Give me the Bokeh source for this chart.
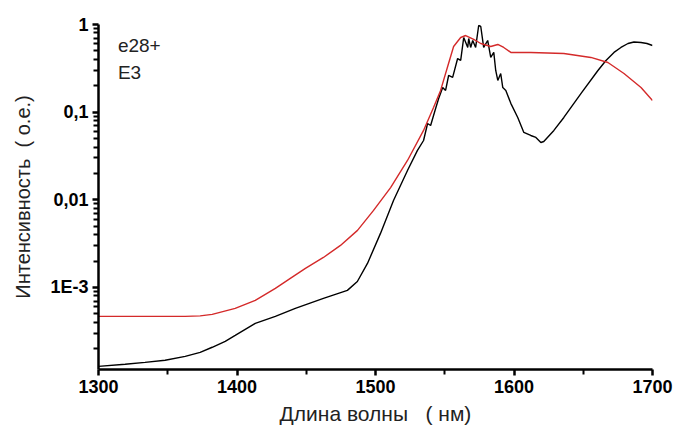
from bokeh.plotting import figure
from bokeh.models import Range1d, FixedTicker, CustomJSTickFormatter, Label
from bokeh.embed import file_html
from bokeh.resources import INLINE

# Wavelength (nm) and intensity (a.u.)
black_nm = [1300, 1319.2, 1333.6, 1348.1, 1362.6, 1373.4, 1382.1, 1391.5, 1398.7, 1413.2,
            1427.7, 1442.1, 1462.4, 1479.7, 1486.9, 1494.2, 1503.6, 1513.0, 1523.1, 1530.3,
            1534.7, 1537.6, 1539.8, 1543.4, 1545.6, 1548.5, 1550.6, 1552.8, 1555.7, 1559.3,
            1561.5, 1563.7, 1566.6, 1567.3, 1568.7, 1570.2, 1572.3, 1574.5, 1576.0, 1578.1,
            1581.0, 1583.2, 1585.4, 1586.8, 1588.3, 1590.4, 1591.9, 1594.1, 1597.7, 1602.7,
            1607.1, 1612.1, 1615.8, 1619.4, 1621.5, 1628.8, 1636.0, 1648.3, 1660.6, 1666.4,
            1672.2, 1677.2, 1682.3, 1686.6, 1691.7, 1696.0, 1700]
black_val = [1.26e-4, 1.33e-4, 1.40e-4, 1.48e-4, 1.64e-4, 1.82e-4, 2.08e-4, 2.43e-4, 2.84e-4, 3.90e-4,
             4.69e-4, 5.78e-4, 7.52e-4, 9.27e-4, 1.17e-3, 1.88e-3, 4.14e-3, 9.84e-3, 0.0216, 0.0366,
             0.0475, 0.0743, 0.0705, 0.110, 0.143, 0.191, 0.177, 0.262, 0.249, 0.409,
             0.389, 0.711, 0.547, 0.692, 0.547, 0.657, 0.547, 0.974, 0.949, 0.547,
             0.657, 0.421, 0.480, 0.299, 0.230, 0.276, 0.191, 0.177, 0.126, 0.0870,
             0.0587, 0.0542, 0.0515, 0.0451, 0.0463, 0.0619, 0.0870, 0.163, 0.299, 0.389,
             0.480, 0.547, 0.607, 0.632, 0.624, 0.607, 0.576]

red_nm = [1300, 1330.0, 1362.6, 1373.4, 1382.1, 1398.7, 1413.2, 1427.7, 1438.5, 1449.4,
          1462.4, 1474.7, 1487.0, 1498.6, 1510.9, 1523.1, 1534.7, 1541.9, 1547.0, 1552.1,
          1556.4, 1561.5, 1565.1, 1570.9, 1576.0, 1583.2, 1588.3, 1592.6, 1597.7, 1612.1,
          1636.0, 1655.5, 1667.8, 1679.4, 1691.7, 1700]
red_val = [4.68e-4, 4.68e-4, 4.68e-4, 4.74e-4, 4.93e-4, 5.78e-4, 7.13e-4, 9.77e-4, 1.27e-3, 1.65e-3,
           2.20e-3, 3.02e-3, 4.48e-3, 7.57e-3, 0.0138, 0.0281, 0.0619, 0.113, 0.177, 0.332,
           0.561, 0.711, 0.749, 0.675, 0.607, 0.561, 0.592, 0.547, 0.480, 0.480,
           0.467, 0.421, 0.369, 0.276, 0.191, 0.136]

x_ticks = [1300, 1400, 1500, 1600, 1700]
x_minor = [1350, 1450, 1550, 1650]
y_ticks = [1e-4, 1e-3, 1e-2, 1e-1, 1]
y_minor = [k * d for d in (1e-4, 1e-3, 1e-2, 1e-1) for k in range(2, 10)]
y_labels = {"0": "1", "-1": "0,1", "-2": "0,01", "-3": "1E-3"}
legend_lines = ["e28+", "E3"]

FONT = "Liberation Sans"
NB = "\u00a0"

p = figure(width=677, height=427, output_backend="svg", toolbar_location=None,
           y_axis_type="log",
           x_range=Range1d(1300, 1700), y_range=Range1d(1.16e-4, 1.0),
           min_border_left=98, min_border_right=25, min_border_top=24, min_border_bottom=58)
p.outline_line_color = None
p.xgrid.visible = False
p.ygrid.visible = False
p.background_fill_color = "white"
p.border_fill_color = "white"

p.line(black_nm, black_val, line_color="#000000", line_width=1.4)
p.line(red_nm, red_val, line_color="#d42a2a", line_width=1.4)

for ax in (p.xaxis[0], p.yaxis[0]):
    ax.axis_line_width = 2.5
    ax.axis_line_color = "#000000"
    ax.major_tick_line_width = 2.5
    ax.major_tick_line_color = "#000000"
    ax.minor_tick_line_width = 2
    ax.minor_tick_line_color = "#000000"
    ax.major_tick_out = 6
    ax.major_tick_in = 0
    ax.minor_tick_out = 5
    ax.minor_tick_in = 0
    ax.major_label_text_font = FONT
    ax.major_label_text_font_style = "bold"
    ax.major_label_text_font_size = "18px"
    ax.major_label_text_color = "#000000"
    ax.axis_label_text_font = FONT
    ax.axis_label_text_font_style = "normal"
    ax.axis_label_text_color = "#222222"

p.xaxis.ticker = FixedTicker(ticks=x_ticks, minor_ticks=x_minor)
p.xaxis.major_label_standoff = 4
p.xaxis.axis_label = "Длина волны" + NB * 3 + "(" + NB + "нм)"
p.xaxis.axis_label_text_font_size = "21px"
p.xaxis.axis_label_standoff = 6

p.yaxis.ticker = FixedTicker(ticks=y_ticks, minor_ticks=y_minor)
p.yaxis.formatter = CustomJSTickFormatter(args=dict(m=y_labels), code="""
const e = Math.round(Math.log10(tick));
const k = String(e);
return (k in m) ? m[k] : "";
""")
p.yaxis.major_label_standoff = 4
p.yaxis.axis_label = "Интенсивность" + NB * 2 + "(" + NB + "о.е.)"
p.yaxis.axis_label_text_font_size = "20px"
p.yaxis.axis_label_standoff = 13

p.add_layout(Label(x=1314, y=0.69, text=legend_lines[0], text_font=FONT, text_font_size="19px",
                   text_baseline="top", text_color="#222222"))
p.add_layout(Label(x=1314, y=0.37, text=legend_lines[1], text_font=FONT, text_font_size="19px",
                   text_baseline="top", text_color="#222222"))

open("out.html", "w").write(file_html(p, INLINE))
